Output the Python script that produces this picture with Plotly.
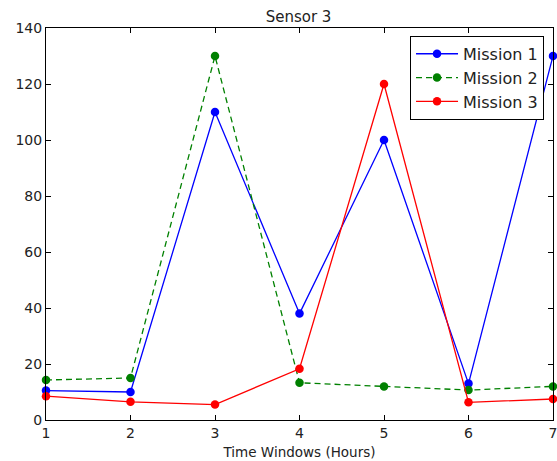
import plotly.graph_objects as go

# Sensor 3 readings per time window
hours = [1, 2, 3, 4, 5, 6, 7]
mission_1 = [10.5, 10, 110, 38, 100, 13, 130]
mission_2 = [14.3, 15, 130, 13.3, 12, 10.7, 12]
mission_3 = [8.5, 6.5, 5.5, 18.3, 120, 6.3, 7.5]

x_ticks = [1, 2, 3, 4, 5, 6, 7]
y_ticks = [0, 20, 40, 60, 80, 100, 120, 140]

FONT = "DejaVu Sans"

fig = go.Figure()
series = [
    ("Mission 1", mission_1, "#0000ff", "solid"),
    ("Mission 2", mission_2, "#008000", "6px,4px"),
    ("Mission 3", mission_3, "#ff0000", "solid"),
]
for name, vals, color, dash in series:
    fig.add_trace(go.Scatter(
        x=hours, y=vals, name=name, mode="lines+markers",
        line=dict(color=color, width=1.3, dash=dash),
        marker=dict(color=color, size=8.5, line=dict(width=0)),
        cliponaxis=False,
    ))

axis_common = dict(
    showline=True, linecolor="black", linewidth=1, mirror="ticks",
    ticks="inside", ticklen=5, tickcolor="black", showgrid=False,
    zeroline=False, tickfont=dict(family=FONT, size=14, color="#222222"),
    ticklabeloverflow="allow", automargin=False,
)

fig.update_layout(
    width=557, height=461,
    margin=dict(l=46, r=4, t=28, b=41),
    paper_bgcolor="white", plot_bgcolor="white",
    font=dict(family=FONT, color="#222222"),
    title=dict(text="Sensor 3", x=0.536, xanchor="center", y=0.975, yanchor="top",
               font=dict(family=FONT, size=15, color="#222222")),
    xaxis=dict(range=[1, 7], tickvals=x_ticks,
               title=dict(text="Time Windows (Hours)", standoff=7,
                          font=dict(family=FONT, size=13.5, color="#222222")),
               **axis_common),
    yaxis=dict(range=[0, 140], tickvals=y_ticks, **axis_common),
    legend=dict(x=0.718, y=0.98, xanchor="left", yanchor="top",
                bordercolor="black", borderwidth=1, bgcolor="white",
                font=dict(family=FONT, size=16, color="#222222"),
                itemwidth=42, tracegroupgap=0),
    showlegend=True,
)

fig.write_html("out.html")
